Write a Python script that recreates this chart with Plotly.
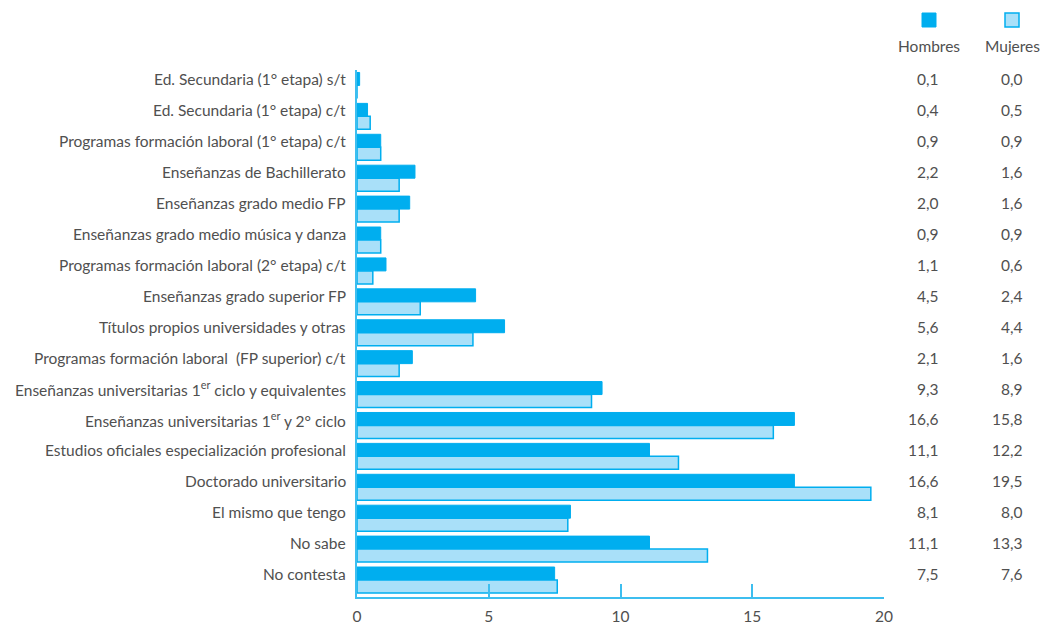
import plotly.graph_objects as go

categories = [
    "Ed. Secundaria (1° etapa) s/t",
    "Ed. Secundaria (1° etapa) c/t",
    "Programas formación laboral (1° etapa) c/t",
    "Enseñanzas de Bachillerato",
    "Enseñanzas grado medio FP",
    "Enseñanzas grado medio música y danza",
    "Programas formación laboral (2° etapa) c/t",
    "Enseñanzas grado superior FP",
    "Títulos propios universidades y otras",
    "Programas formación laboral  (FP superior) c/t",
    "Enseñanzas universitarias 1<sup>er</sup> ciclo y equivalentes",
    "Enseñanzas universitarias 1<sup>er</sup> y 2° ciclo",
    "Estudios oficiales especialización profesional",
    "Doctorado universitario",
    "El mismo que tengo",
    "No sabe",
    "No contesta",
]
hombres = [0.1, 0.4, 0.9, 2.2, 2.0, 0.9, 1.1, 4.5, 5.6, 2.1, 9.3, 16.6, 11.1, 16.6, 8.1, 11.1, 7.5]
mujeres = [0.0, 0.5, 0.9, 1.6, 1.6, 0.9, 0.6, 2.4, 4.4, 1.6, 8.9, 15.8, 12.2, 19.5, 8.0, 13.3, 7.6]
x_ticks = [0, 5, 10, 15, 20]
series_names = ["Hombres", "Mujeres"]

BLUE = "#00AEEF"
LIGHT = "#A9E0F9"
TXT = "#505050"
FONT = "Lato"
FS = 15.5
LABEL_SHIFT = 6

W, H = 1040, 627
L, R, T, B = 357, 884, 70, 597

def px_x(p):
    return (p - L) / (R - L)

def px_y(p):
    return (B - p) / (B - T)

fig = go.Figure()
fig.add_trace(go.Bar(
    y=categories, x=hombres, orientation="h", name=series_names[0],
    marker=dict(color=BLUE, line=dict(color=BLUE, width=1)),
))
fig.add_trace(go.Bar(
    y=categories, x=mujeres, orientation="h", name=series_names[1],
    marker=dict(color=LIGHT, line=dict(color=BLUE, width=1.5)),
))

def fmt(v):
    return f"{v:.1f}".replace(".", ",")

annotations = []
for cat, h, m in zip(categories, hombres, mujeres):
    annotations.append(dict(x=px_x(348), y=cat, xref="paper", yref="y", text=cat,
                            showarrow=False, xanchor="right", yanchor="middle", yshift=LABEL_SHIFT,
                            font=dict(size=FS, color=TXT, family=FONT)))
    annotations.append(dict(x=px_x(941), y=cat, xref="paper", yref="y", text=fmt(h),
                            showarrow=False, xanchor="right", yanchor="middle", yshift=LABEL_SHIFT,
                            font=dict(size=FS, color=TXT, family=FONT)))
    annotations.append(dict(x=px_x(1025), y=cat, xref="paper", yref="y", text=fmt(m),
                            showarrow=False, xanchor="right", yanchor="middle", yshift=LABEL_SHIFT,
                            font=dict(size=FS, color=TXT, family=FONT)))

# custom legend: square above label
shapes = []
for name, cx, fill, lw in [(series_names[0], 929, BLUE, 1), (series_names[1], 1012, LIGHT, 1.5)]:
    shapes.append(dict(type="rect", xref="paper", yref="paper",
                       x0=px_x(cx - 7), x1=px_x(cx + 7), y0=px_y(27), y1=px_y(13),
                       fillcolor=fill, line=dict(color=BLUE, width=lw)))
    annotations.append(dict(x=px_x(cx), y=px_y(46), xref="paper", yref="paper", text=name,
                            showarrow=False, xanchor="center", yanchor="middle",
                            font=dict(size=FS, color=TXT, family=FONT)))

fig.update_layout(
    width=W, height=H,
    margin=dict(l=L, r=W - R, t=T, b=H - B, pad=0, autoexpand=False),
    paper_bgcolor="white", plot_bgcolor="white",
    barmode="group", bargap=0.16, bargroupgap=0.0,
    showlegend=False,
    font=dict(family=FONT, size=FS, color=TXT),
    annotations=annotations,
    shapes=shapes,
)
fig.update_xaxes(
    range=[0, 20], tickvals=x_ticks, ticktext=[str(v) for v in x_ticks],
    showgrid=False, zeroline=False, automargin=False,
    showline=True, linecolor="#3DBEEF", linewidth=1.5,
    ticks="inside", ticklen=13, tickcolor="#3DBEEF", tickwidth=1.5,
    ticklabelstandoff=5,
    tickfont=dict(size=FS, color=TXT, family=FONT),
)
fig.update_yaxes(
    autorange="reversed", showgrid=False, zeroline=False, automargin=False,
    showline=True, linecolor="#3DBEEF", linewidth=1.5,
    ticks="", showticklabels=False,
)

fig.write_html("out.html", config={"displayModeBar": False},
               post_script="document.body.style.margin='0';")
